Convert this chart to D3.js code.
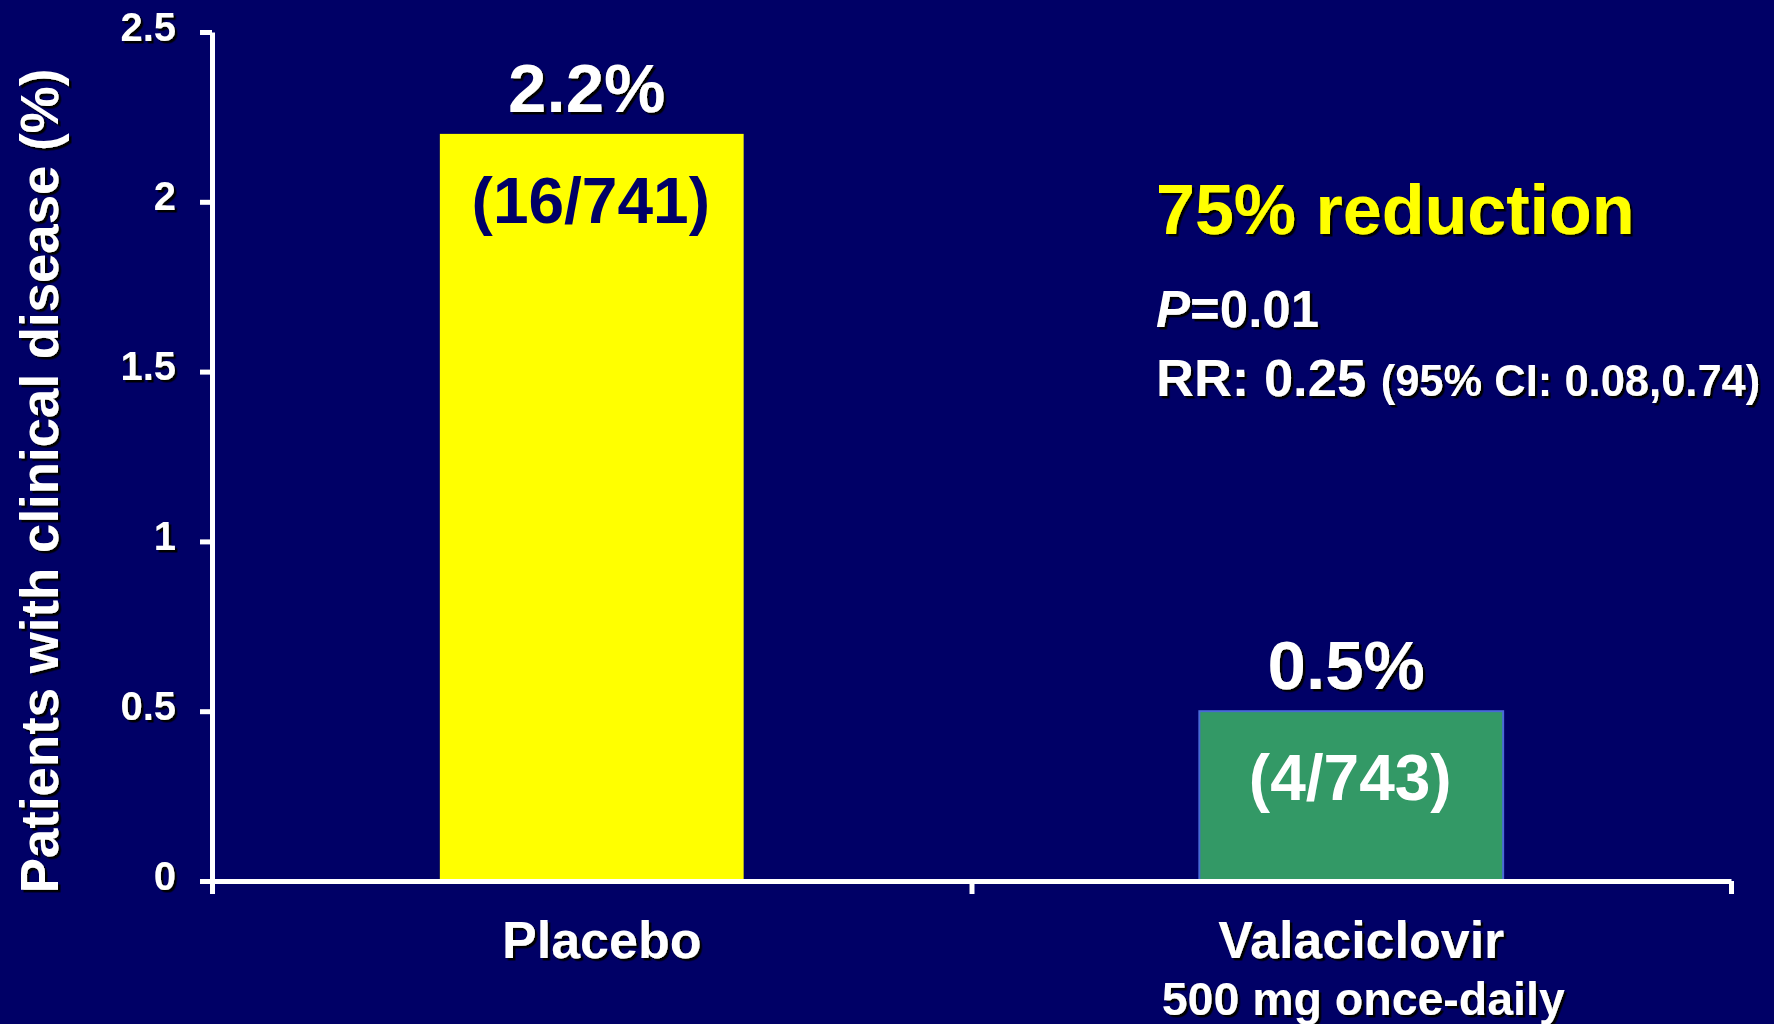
<!DOCTYPE html>
<html>
<head>
<meta charset="utf-8">
<script src="https://cdn.jsdelivr.net/npm/d3@7"></script>
<style>
  html, body { margin: 0; padding: 0; background: #000066; }
  svg { display: block; }
  text { font-family: "Liberation Sans", Arial, sans-serif; font-weight: bold; }
</style>
</head>
<body>
<svg id="chart" width="1774" height="1024"></svg>
<script>
// Chart data
const categories = ["Placebo", "Valaciclovir"];
const subLabels = ["", "500 mg once-daily"];
const values = [2.2, 0.5];
const counts = ["(16/741)", "(4/743)"];
const yTicks = [0, 0.5, 1, 1.5, 2, 2.5];
const barColors = ["#FFFF00", "#339966"];
const barStrokes = ["none", "#4A6AD8"];
const countColors = ["#000066", "#FFFFFF"];
const yTitle = "Patients with clinical disease (%)";
const headline = "75% reduction";
const pText = "=0.01";
const rrText = "RR: 0.25";
const ciText = "(95% CI: 0.08,0.74)";

const W = 1774, H = 1024;
const plot = { left: 212, right: 1731, top: 32, bottom: 881 };
const svg = d3.select("#chart");

svg.append("rect").attr("width", W).attr("height", H).attr("fill", "#000066");

const defs = svg.append("defs");
defs.append("filter").attr("id", "shadow")
  .attr("x", "-10%").attr("y", "-10%").attr("width", "130%").attr("height", "130%")
  .append("feDropShadow")
  .attr("dx", 2.5).attr("dy", 2.5).attr("stdDeviation", 0.4)
  .attr("flood-color", "#000").attr("flood-opacity", 1);

const y = d3.scaleLinear().domain([0, 2.5]).range([plot.bottom, plot.top]);
const x = d3.scaleBand().domain(categories)
  .range([plot.left, plot.right]).paddingInner(0.6).paddingOuter(0.3);
const xEdge = d3.scaleLinear().domain([0, categories.length]).range([plot.left, plot.right]);

// Bars
svg.append("g").selectAll("rect").data(values).join("rect")
  .attr("x", (d, i) => x(categories[i]))
  .attr("y", d => y(d))
  .attr("width", x.bandwidth())
  .attr("height", d => y(0) - y(d))
  .attr("fill", (d, i) => barColors[i])
  .attr("stroke", (d, i) => barStrokes[i])
  .attr("stroke-width", 2);

// Y axis
const yAxis = svg.append("g")
  .attr("transform", `translate(${plot.left},0)`)
  .call(d3.axisLeft(y).tickValues(yTicks).tickSize(12).tickSizeOuter(0).tickPadding(24)
    .tickFormat(d3.format("")));
yAxis.select(".domain").attr("stroke", "#fff").attr("stroke-width", 5);
yAxis.selectAll(".tick line").attr("stroke", "#fff").attr("stroke-width", 5);
yAxis.selectAll(".tick text")
  .attr("fill", "#fff").attr("font-size", 40).attr("dy", "0.2em")
  .attr("filter", "url(#shadow)");

// X axis with ticks at category boundaries
const xAxis = svg.append("g")
  .attr("transform", `translate(0,${plot.bottom})`)
  .call(d3.axisBottom(xEdge).tickValues(d3.range(categories.length + 1))
    .tickSize(13).tickSizeOuter(0).tickFormat(""));
xAxis.select(".domain").attr("stroke", "#fff").attr("stroke-width", 5);
xAxis.selectAll(".tick line").attr("stroke", "#fff").attr("stroke-width", 5);

// Y title
svg.append("g").attr("filter", "url(#shadow)")
  .append("text")
  .attr("transform", `translate(58,481) rotate(-90)`)
  .attr("text-anchor", "middle")
  .attr("font-size", 52.8)
  .attr("fill", "#fff")
  .text(yTitle);

// Category labels
const cx = i => x(categories[i]) + x.bandwidth() / 2;
svg.append("g").selectAll("text").data(categories).join("text")
  .attr("x", (d, i) => cx(i) + 10)
  .attr("y", 958)
  .attr("text-anchor", "middle")
  .attr("font-size", 52)
  .attr("fill", "#fff")
  .attr("filter", "url(#shadow)")
  .text(d => d);
svg.append("g").selectAll("text").data(subLabels).join("text")
  .attr("x", (d, i) => cx(i) + 12)
  .attr("y", 1015)
  .attr("text-anchor", "middle")
  .attr("font-size", 46.5)
  .attr("fill", "#fff")
  .attr("filter", "url(#shadow)")
  .text(d => d);

// Value labels above bars
svg.append("g").selectAll("text").data(values).join("text")
  .attr("x", (d, i) => cx(i) - 5)
  .attr("y", d => y(d) - 22)
  .attr("text-anchor", "middle")
  .attr("font-size", 69)
  .attr("fill", "#fff")
  .attr("filter", "url(#shadow)")
  .text(d => d3.format(".1f")(d) + "%");

// Counts inside bars
svg.append("g").selectAll("text").data(counts).join("text")
  .attr("x", (d, i) => cx(i) - 1)
  .attr("y", (d, i) => y(values[i]) + 89)
  .attr("text-anchor", "middle")
  .attr("font-size", 64)
  .attr("fill", (d, i) => countColors[i])
  .text(d => d);

// Statistics annotation
const ann = svg.append("g").attr("filter", "url(#shadow)");
ann.append("text").attr("x", 1156).attr("y", 234)
  .attr("font-size", 70).attr("fill", "#FFFF00").text(headline);
const pLine = ann.append("text").attr("x", 1156).attr("y", 327)
  .attr("font-size", 51).attr("fill", "#fff");
pLine.append("tspan").attr("font-style", "italic").text("P");
pLine.append("tspan").text(pText);
const rrLine = ann.append("text").attr("x", 1156).attr("y", 396)
  .attr("fill", "#fff");
rrLine.append("tspan").attr("font-size", 52.5).text(rrText + " ");
rrLine.append("tspan").attr("font-size", 43.5).text(ciText);
</script>
</body>
</html>
